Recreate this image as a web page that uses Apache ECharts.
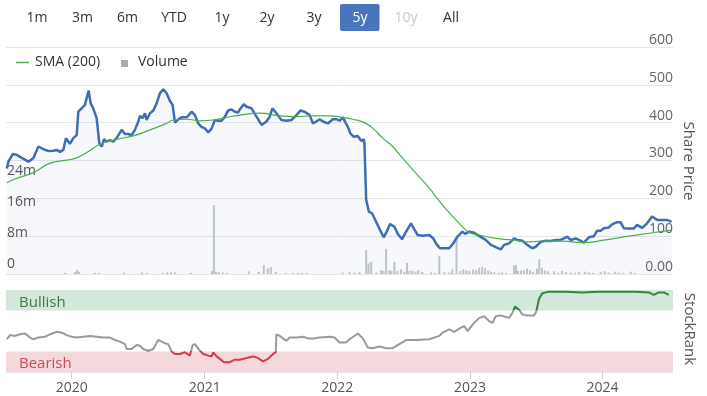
<!DOCTYPE html>
<html><head><meta charset="utf-8">
<script src="https://cdn.jsdelivr.net/npm/echarts@6/dist/echarts.min.js"></script>
<style>html,body{margin:0;padding:0;background:#fff}#c{width:707px;height:396px}</style>
</head><body><div id="c"></div>
<script>
// ---- data (decimal years / values) ----
const rangeButtons = ['1m','3m','6m','YTD','1y','2y','3y','5y','10y','All'];
const tickYears = [2020, 2021, 2022, 2023, 2024];
const priceTicks = [0, 100, 200, 300, 400, 500, 600];
const volumeTicks = ['0', '8m', '16m', '24m'];

const priceT = [2019.511,2019.523,2019.556,2019.586,2019.624,2019.674,2019.711,2019.749,2019.786,2019.824,2019.862,2019.887,2019.912,2019.937,2019.957,2019.987,2020.012,2020.038,2020.050,2020.075,2020.100,2020.113,2020.128,2020.143,2020.162,2020.188,2020.208,2020.226,2020.243,2020.263,2020.288,2020.313,2020.338,2020.376,2020.401,2020.426,2020.451,2020.476,2020.501,2020.514,2020.534,2020.551,2020.564,2020.589,2020.614,2020.639,2020.664,2020.689,2020.714,2020.739,2020.759,2020.777,2020.802,2020.827,2020.865,2020.902,2020.927,2020.952,2020.977,2021.002,2021.027,2021.053,2021.077,2021.102,2021.128,2021.153,2021.177,2021.203,2021.228,2021.253,2021.265,2021.295,2021.316,2021.353,2021.391,2021.429,2021.466,2021.491,2021.511,2021.541,2021.579,2021.617,2021.654,2021.692,2021.722,2021.754,2021.792,2021.817,2021.842,2021.867,2021.892,2021.929,2021.967,2021.997,2022.017,2022.042,2022.062,2022.080,2022.098,2022.123,2022.155,2022.180,2022.200,2022.205,2022.218,2022.238,2022.263,2022.293,2022.323,2022.350,2022.373,2022.398,2022.431,2022.456,2022.489,2022.519,2022.556,2022.581,2022.606,2022.644,2022.694,2022.724,2022.744,2022.774,2022.807,2022.844,2022.874,2022.907,2022.944,2022.965,2022.995,2023.026,2023.071,2023.120,2023.158,2023.195,2023.233,2023.258,2023.296,2023.333,2023.358,2023.396,2023.433,2023.471,2023.496,2023.534,2023.571,2023.609,2023.647,2023.684,2023.709,2023.734,2023.759,2023.797,2023.835,2023.859,2023.897,2023.935,2023.959,2023.985,2024.010,2024.047,2024.072,2024.110,2024.135,2024.160,2024.198,2024.235,2024.260,2024.298,2024.335,2024.373,2024.411,2024.448,2024.486,2024.519];
const priceV = [279,297,317,315,307,297,306,337,330,325,326,328,323,328,359,344,359,367,429,438,447,451,485,451,438,412,345,337,356,350,354,350,359,381,370,370,367,381,403,418,412,425,407,425,432,451,478,488,478,458,447,400,409,414,414,429,420,398,389,385,374,385,407,405,405,416,432,435,429,427,435,449,442,438,416,394,403,416,438,425,407,405,407,420,432,429,420,398,403,409,403,398,409,409,405,414,400,389,372,363,365,352,356,345,196,165,160,138,116,97,112,132,125,106,92,112,134,118,103,101,103,94,81,68,68,68,81,99,112,106,112,110,100,90,77,71,65,77,81,94,90,88,77,68,72,85,88,87,90,90,94,99,90,94,88,83,97,100,114,114,121,123,131,137,137,121,120,120,130,122,134,152,143,143,143,138];

const smaT = [2019.511,2019.586,2019.711,2019.837,2019.962,2020.038,2020.113,2020.213,2020.338,2020.463,2020.589,2020.714,2020.764,2020.865,2020.965,2021.065,2021.165,2021.265,2021.416,2021.566,2021.692,2021.817,2021.942,2022.042,2022.117,2022.205,2022.268,2022.343,2022.418,2022.493,2022.594,2022.694,2022.794,2022.895,2022.970,2022.995,2023.071,2023.195,2023.320,2023.446,2023.571,2023.696,2023.850,2024.023,2024.198,2024.373,2024.519];
const smaV = [241,253,268,293,301,307,321,343,356,365,381,398,407,409,405,407,414,420,425,418,416,418,418,414,409,400,385,359,337,306,266,227,182,143,116,109,103,94,90,85,87,87,83,90,100,109,116];

const rankT = [2019.511,2019.536,2019.574,2019.611,2019.649,2019.686,2019.711,2019.749,2019.799,2019.837,2019.887,2019.925,2019.962,2020.000,2020.038,2020.087,2020.138,2020.188,2020.238,2020.288,2020.326,2020.363,2020.401,2020.414,2020.451,2020.489,2020.514,2020.538,2020.576,2020.614,2020.626,2020.651,2020.677,2020.702,2020.726,2020.752,2020.777,2020.814,2020.852,2020.889,2020.910,2020.927,2020.959,2020.989,2021.027,2021.053,2021.065,2021.090,2021.115,2021.145,2021.190,2021.228,2021.265,2021.316,2021.365,2021.403,2021.441,2021.478,2021.516,2021.536,2021.541,2021.566,2021.591,2021.617,2021.641,2021.692,2021.741,2021.779,2021.829,2021.867,2021.942,2021.980,2022.017,2022.066,2022.093,2022.155,2022.193,2022.230,2022.268,2022.318,2022.368,2022.418,2022.468,2022.519,2022.594,2022.694,2022.769,2022.794,2022.844,2022.882,2022.932,2022.957,2022.982,2023.032,2023.071,2023.108,2023.145,2023.170,2023.195,2023.233,2023.271,2023.296,2023.320,2023.341,2023.371,2023.396,2023.433,2023.484,2023.501,2023.521,2023.546,2023.596,2023.722,2023.847,2023.972,2024.098,2024.248,2024.348,2024.386,2024.423,2024.461,2024.498];
const rankV = [40,45,44,46,47,42,40,42,43,46,49,48,45,43,42,43,44,43,42,42,39,37,34,28,28,33,32,28,26,28,30,39,37,35,34,25,22,22,24,20,33,34,27,22,20,19,24,19,16,12,12,15,15,17,19,17,13,16,22,24,46,44,41,38,42,42,43,41,41,42,43,42,36,36,40,47,41,30,29,31,29,29,34,39,39,40,44,48,52,49,54,56,50,60,66,68,62,60,68,69,67,66,72,80,76,70,69,69,74,89,96,98,98,97,98,98,98,97,94,97,97,94];

const volT = [2019.950,2020.025,2020.040,2020.055,2020.175,2020.205,2020.393,2020.529,2020.566,2020.686,2020.717,2020.747,2020.777,2020.897,2021.055,2021.070,2021.085,2021.107,2021.138,2021.168,2021.333,2021.408,2021.446,2021.476,2021.499,2021.536,2021.611,2021.664,2021.702,2021.732,2021.769,2022.040,2022.093,2022.130,2022.168,2022.218,2022.235,2022.256,2022.295,2022.331,2022.348,2022.368,2022.393,2022.408,2022.431,2022.453,2022.481,2022.506,2022.526,2022.544,2022.566,2022.589,2022.611,2022.641,2022.707,2022.739,2022.769,2022.807,2022.844,2022.867,2022.899,2022.927,2022.950,2022.972,2022.995,2023.025,2023.048,2023.070,2023.093,2023.115,2023.138,2023.160,2023.183,2023.220,2023.243,2023.273,2023.333,2023.348,2023.363,2023.386,2023.408,2023.431,2023.454,2023.476,2023.506,2023.523,2023.544,2023.566,2023.589,2023.634,2023.664,2023.694,2023.724,2023.762,2023.792,2023.822,2023.867,2023.897,2023.927,2023.987,2024.017,2024.047,2024.092,2024.122,2024.152,2024.212,2024.242];
const volM = [0.3,0.5,1.0,0.6,0.3,0.3,0.4,0.4,0.3,0.3,0.4,0.5,0.4,0.3,0.8,17.8,0.6,0.5,0.4,0.3,0.7,0.5,2.3,1.5,1.8,0.5,0.3,0.3,0.3,0.3,0.3,0.4,0.5,0.4,0.5,6.2,2.8,3.1,0.4,1.0,0.8,6.5,1.0,0.8,3.1,0.8,1.2,0.6,2.9,0.8,0.9,0.6,1.0,0.5,0.4,0.3,4.6,0.5,0.4,1.2,9.8,0.8,1.2,0.9,0.8,1.2,1.0,1.6,1.8,1.5,0.9,0.6,0.5,0.3,0.4,0.3,2.2,2.3,0.8,0.9,0.9,1.4,1.0,0.6,1.4,3.8,1.6,0.9,0.7,0.7,0.3,0.8,0.5,0.4,0.3,0.5,0.6,0.4,0.3,0.5,0.7,0.4,0.6,0.4,0.3,0.6,0.3];

const xStartYear = 2019.505, xEndYear = 2024.53;

// ---- helpers ----
function yts(y){ const Y=Math.floor(y); const a=Date.UTC(Y,0,1), b=Date.UTC(Y+1,0,1); return a+(y-Y)*(b-a); }
const zip = (t, v, k) => t.map((x,i)=>[yts(x), v[i]*(k||1)]);

const chart = echarts.init(document.getElementById('c'), null, {renderer:'canvas'});
const FONT = '"Open Sans", "Noto Sans", sans-serif';
const gridLine = {show:true, lineStyle:{color:'#e6e6e6', width:1}};

// range buttons (layout only)
const btnX = [37, 82.5, 127.5, 174, 222, 267, 314, 360, 406, 451];
const graphics = [];
rangeButtons.forEach((b,i)=>{
  if (b==='5y') graphics.push({type:'rect', shape:{x:340, y:4, width:39.5, height:27, r:2}, style:{fill:'#4a74bb'}});
  graphics.push({type:'text', x:btnX[i], y:18, style:{text:b, font:'14px '+FONT, fill: b==='5y'?'#fff':(b==='10y'?'#c8c8c8':'#333'), align:'center', verticalAlign:'middle'}});
});
// legend
graphics.push({type:'line', shape:{x1:16, y1:62.5, x2:29, y2:62.5}, style:{stroke:'#4cae4c', lineWidth:1.5}});
graphics.push({type:'text', x:35, y:62.5, style:{text:'SMA (200)', font:'14px '+FONT, fill:'#333', verticalAlign:'middle'}});
graphics.push({type:'rect', shape:{x:121, y:60, width:7, height:7}, style:{fill:'#a9aab5'}});
graphics.push({type:'text', x:138, y:62.5, style:{text:'Volume', font:'14px '+FONT, fill:'#333', verticalAlign:'middle'}});
// axis titles
graphics.push({type:'text', x:688, y:161, rotation:-Math.PI/2, style:{text:'Share Price', font:'15px '+FONT, fill:'#555', align:'center', verticalAlign:'middle'}});
graphics.push({type:'text', x:689, y:329, rotation:-Math.PI/2, style:{text:'StockRank', font:'15px '+FONT, fill:'#555', align:'center', verticalAlign:'middle'}});

const yearTicks = tickYears.map(y=>yts(y));
const option = {
  animation:false,
  textStyle:{fontFamily:FONT},
  grid:[{left:6, right:34, top:47, height:227}, {left:6, right:34, top:290, height:82}],
  xAxis:[
    {type:'value', gridIndex:0, min:yts(xStartYear), max:yts(xEndYear), axisLabel:{show:false}, axisTick:{show:false}, axisLine:{show:false}, splitLine:{show:false}},
    {type:'value', gridIndex:1, min:yts(xStartYear), max:yts(xEndYear), axisLine:{show:false},
      axisTick:{show:true, length:7, lineStyle:{color:'#ccd0d6'}, customValues: yearTicks},
      axisLabel:{color:'#555', fontSize:14, margin:9, customValues: yearTicks, formatter:(v)=>String(new Date(v).getUTCFullYear())},
      splitLine:{show:false}}
  ],
  yAxis:[
    {type:'value', gridIndex:0, position:'right', min:0, max:600, interval:100, splitLine:gridLine, axisLine:{show:false}, axisTick:{show:false},
      axisLabel:{inside:true, margin:0, color:'#666', fontSize:14, verticalAlign:'bottom', formatter:(v)=> v===0?'0.00':String(v)}},
    {type:'value', gridIndex:0, position:'left', min:0, max:58.6e6, interval:8e6, splitLine:{show:false}, axisLine:{show:false}, axisTick:{show:false},
      axisLabel:{inside:true, margin:1, color:'#555', fontSize:14, verticalAlign:'bottom', padding:[0,0,3,0],
        formatter:(v)=>{const i=Math.round(v/8e6); return (i<volumeTicks.length && Math.abs(v-i*8e6)<1)?volumeTicks[i]:'';}}},
    {type:'value', gridIndex:1, position:'right', min:0, max:100, interval:100, splitLine:gridLine, axisLine:{show:false}, axisTick:{show:false},
      axisLabel:{inside:true, margin:2, color:'#666', fontSize:14, verticalAlign:'bottom', formatter:(v)=> v===0?'0':''}}
  ],
  visualMap:{show:false, type:'piecewise', seriesIndex:3, dimension:1,
    pieces:[{lt:25, color:'#d23c4d'}, {gte:25, lt:75, color:'#9a9a9a'}, {gte:75, color:'#2a8a3a'}]},
  series:[
    {name:'Volume', type:'bar', xAxisIndex:0, yAxisIndex:1, data:zip(volT, volM, 1e6), barWidth:2, itemStyle:{color:'#c4c5d0'}, z:1},
    {name:'Price', type:'line', xAxisIndex:0, yAxisIndex:0, data:zip(priceT, priceV), showSymbol:false, smooth:false,
      lineStyle:{color:'#3e6db5', width:2.5}, areaStyle:{color:'rgba(70,90,190,0.06)'}, z:3},
    {name:'SMA (200)', type:'line', xAxisIndex:0, yAxisIndex:0, data:zip(smaT, smaV), showSymbol:false, smooth:true,
      lineStyle:{color:'#4cae4c', width:1.2}, z:4},
    {name:'StockRank', type:'line', xAxisIndex:1, yAxisIndex:2, data:zip(rankT, rankV), showSymbol:false,
      lineStyle:{width:2}, z:3,
      markArea:{silent:true, data:[
        [{name:'Bullish', yAxis:75, itemStyle:{color:'#d3e8db'}, label:{color:'#3a7a3a'}}, {yAxis:100}],
        [{name:'Bearish', yAxis:0, itemStyle:{color:'#f5d8db'}, label:{color:'#cc4a5b'}}, {yAxis:25}]
      ], label:{show:true, position:'insideLeft', distance:13, fontSize:15, offset:[0,2]}}}
  ],
  graphic:graphics
};
chart.setOption(option);
</script></body></html>
